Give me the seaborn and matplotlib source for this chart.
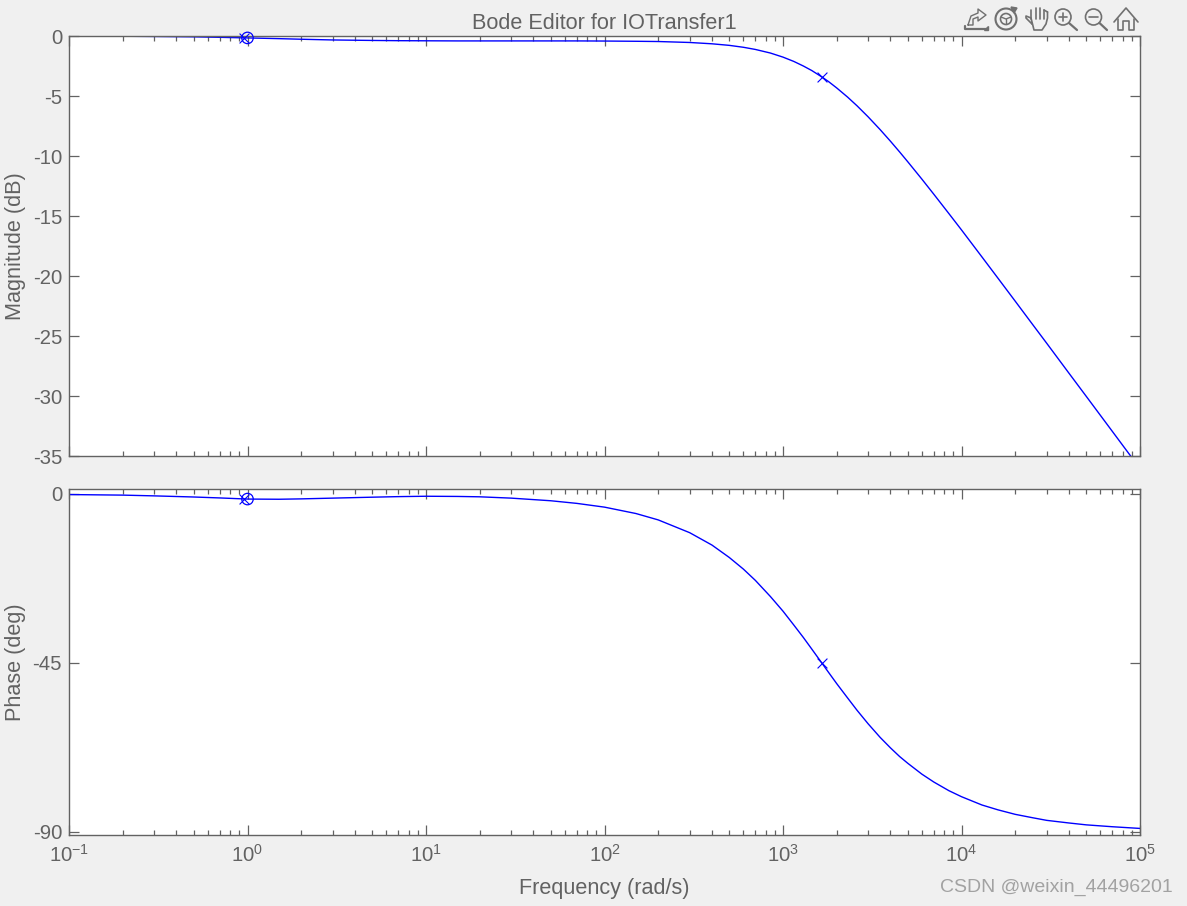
import matplotlib
matplotlib.use("Agg")

import matplotlib.pyplot as plt
import numpy as np
import pandas as pd
import seaborn as sns
from matplotlib.patches import Circle, Polygon
from matplotlib.ticker import LogLocator, NullFormatter

freq = [0.1, 0.2, 0.3, 0.5, 0.7, 1, 1.5, 2, 3, 5, 7, 10, 15, 20, 30, 50, 70, 100, 150,
        200, 300, 400, 500, 600, 700, 850, 1000, 1150, 1300, 1450, 1650, 1800, 2000,
        2300, 2600, 3000, 3500, 4000, 4500, 5000, 6000, 7000, 8500, 10000, 13000,
        16000, 20000, 25000, 30000, 40000, 50000, 70000, 100000]
magnitude = [-0.01, -0.02, -0.04, -0.07, -0.11, -0.16, -0.22, -0.27, -0.33, -0.37, -0.39,
             -0.40, -0.41, -0.41, -0.41, -0.41, -0.41, -0.42, -0.44, -0.46, -0.54, -0.65,
             -0.78, -0.94, -1.12, -1.42, -1.76, -2.12, -2.50, -2.88, -3.41, -3.80, -4.33,
             -5.09, -5.82, -6.74, -7.80, -8.77, -9.66, -10.48, -11.93, -13.19, -14.80,
             -16.16, -18.40, -20.18, -22.10, -24.03, -25.60, -28.10, -30.03, -32.95, -36.05]
phase = [-0.15, -0.3, -0.5, -0.8, -1.05, -1.35, -1.4, -1.3, -1.1, -0.85, -0.7, -0.6, -0.65,
         -0.75, -1.1, -1.8, -2.5, -3.5, -5.2, -6.9, -10.3, -13.6, -16.9, -20, -23, -27.3,
         -31.2, -34.9, -38.2, -41.3, -45, -47.5, -50.5, -54.3, -57.6, -61.2, -64.8, -67.6,
         -69.9, -71.7, -74.6, -76.7, -79, -80.6, -82.8, -84.1, -85.3, -86.2, -86.9, -87.6,
         -88.1, -88.6, -89.05]

# compensator poles and zero as shown on the editor
pole_freq = [0.95, 1650]
pole_mag = [-0.15, -3.41]
pole_phase = [-1.35, -45]
zero_freq = [1.0]
zero_mag = [-0.16]
zero_phase = [-1.35]

mag_ticks = [0, -5, -10, -15, -20, -25, -30, -35]
phase_ticks = [0, -45, -90]
freq_ticks = [0.1, 1, 10, 100, 1000, 10000, 100000]
freq_labels = ["$10^{-1}$", "$10^{0}$", "$10^{1}$", "$10^{2}$", "$10^{3}$", "$10^{4}$", "$10^{5}$"]

BG = "#f0f0f0"
GREY = "#626262"
BLUE = "#0000ff"
W, H = 1187, 906

sns.set_theme(style="ticks")
plt.rcParams["font.family"] = ["Liberation Sans", "DejaVu Sans"]
plt.rcParams["mathtext.fontset"] = "custom"
plt.rcParams["mathtext.rm"] = "Liberation Sans"
plt.rcParams["mathtext.it"] = "Liberation Sans"
plt.rcParams["mathtext.default"] = "regular"
plt.rcParams["axes.unicode_minus"] = False

df = pd.DataFrame({"freq": freq, "magnitude": magnitude, "phase": phase})


def axes_rect(left, top, right, bottom):
    return [left / W, 1 - bottom / H, (right - left) / W, (bottom - top) / H]


def style_axes(ax):
    ax.set_xscale("log")
    ax.set_xlim(0.1, 100000)
    ax.set_facecolor("white")
    ax.xaxis.set_major_locator(LogLocator(base=10, numticks=10))
    ax.xaxis.set_minor_locator(LogLocator(base=10, subs=np.arange(2, 10), numticks=10))
    ax.xaxis.set_minor_formatter(NullFormatter())
    ax.tick_params(axis="both", which="major", direction="in", length=7, width=0.9,
                   color=GREY, labelcolor=GREY, labelsize=14.6, top=True, right=True, pad=5)
    ax.tick_params(axis="x", which="major", pad=6.5)
    ax.tick_params(axis="x", which="minor", direction="in", length=3.6, width=0.9,
                   color=GREY, top=True, bottom=True)
    for spine in ax.spines.values():
        spine.set_visible(True)
        spine.set_color(GREY)
        spine.set_linewidth(1.0)


def draw_panel(ax, column, marks_pole, marks_zero):
    sns.lineplot(data=df, x="freq", y=column, color=BLUE, linewidth=1.0, ax=ax,
                 estimator=None, sort=False)
    sns.scatterplot(x=pole_freq, y=marks_pole, marker="x", color=BLUE, s=50, linewidth=0.8,
                    ax=ax, zorder=5, clip_on=False)
    ax.scatter(zero_freq, marks_zero, marker="o", facecolors="none", edgecolors=BLUE,
               s=68, linewidths=0.9, zorder=5, clip_on=False)
    style_axes(ax)


fig = plt.figure(figsize=(W / 100, H / 100), dpi=100, facecolor=BG)
ax_mag = fig.add_axes(axes_rect(69, 36, 1140, 456))
ax_phase = fig.add_axes(axes_rect(69, 489, 1140, 835))

draw_panel(ax_mag, "magnitude", pole_mag, zero_mag)
ax_mag.set_ylim(-35, 0)
ax_mag.set_yticks(mag_ticks)
ax_mag.set_xticks(freq_ticks)
ax_mag.set_xticklabels([])
ax_mag.set_xlabel("")
ax_mag.set_ylabel("Magnitude (dB)", fontsize=15.6, color=GREY)
ax_mag.yaxis.set_label_coords(-43 / 1071, 0.5)
ax_mag.set_title("Bode Editor for IOTransfer1", fontsize=15.6, color=GREY, pad=5)

draw_panel(ax_phase, "phase", pole_phase, zero_phase)
ax_phase.set_ylim(-90.8, 1.33)
ax_phase.set_yticks(phase_ticks)
ax_phase.set_xticks(freq_ticks)
ax_phase.set_xticklabels(freq_labels)
ax_phase.set_xlabel("Frequency (rad/s)", fontsize=15.6, color=GREY, labelpad=8.5)
ax_phase.set_ylabel("Phase (deg)", fontsize=15.6, color=GREY)
ax_phase.yaxis.set_label_coords(-43 / 1071, 0.5)

# overlay in pixel coordinates for the toolbar and watermark
ov = fig.add_axes([0, 0, 1, 1], facecolor="none")
ov.set_xlim(0, W)
ov.set_ylim(H, 0)
ov.axis("off")

ICON = "#707070"


def stroke(xs, ys, lw=1.2):
    ov.plot(xs, ys, color=ICON, linewidth=lw, solid_capstyle="round")


# home
stroke([1114, 1126, 1138], [22, 8, 22])
stroke([1118, 1118, 1123, 1123, 1129, 1129, 1134, 1134], [19, 30, 30, 21, 21, 30, 30, 19])
# zoom out
ov.add_patch(Circle((1093.5, 17), 8, fill=False, ec=ICON, lw=1.2))
stroke([1089, 1098], [17, 17])
stroke([1099.5, 1107], [23, 30], lw=1.6)
# zoom in
ov.add_patch(Circle((1063, 17), 8, fill=False, ec=ICON, lw=1.2))
stroke([1059, 1067], [17, 17])
stroke([1063, 1063], [13, 21])
stroke([1069, 1077], [23, 30], lw=1.6)
# hand
stroke([1032, 1026, 1026, 1031, 1034, 1042, 1046, 1047.5, 1047.5],
       [24, 18, 16, 18, 30, 30, 24, 18, 12])
for fx, fy in [(1031, 10), (1036, 8), (1040, 8), (1044, 10)]:
    stroke([fx, fx], [fy, 19])
stroke([1044, 1047.5], [10, 12])
# rotate
ov.add_patch(Circle((1006, 19), 10.5, fill=False, ec=ICON, lw=1.5))
ov.add_patch(Circle((1006, 19), 5.5, fill=False, ec=ICON, lw=1.2))
stroke([1001, 1006, 1011], [17, 19, 17], lw=1.0)
stroke([1006, 1006], [19, 24], lw=1.0)
ov.add_patch(Polygon([(1011, 7), (1017, 8), (1014, 13)], closed=True, fc=ICON, ec=ICON))
# export
stroke([965, 965, 987], [26, 29, 29], lw=1.6)
stroke([968, 971, 978, 978, 986, 978, 978, 973, 973, 968], [25, 16, 13, 9, 15, 21, 17, 19, 25, 25], lw=1.0)
ov.add_patch(Polygon([(984, 30), (988, 30), (988, 26)], closed=True, fc=ICON, ec=ICON))

# watermark
fig.text(1056 / W, 1 - 887 / H, "CSDN @weixin_44496201", fontsize=14, color="#a2a2a2",
         ha="center", va="center")

fig.savefig("out.png", dpi=100, facecolor=BG)
plt.close(fig)
